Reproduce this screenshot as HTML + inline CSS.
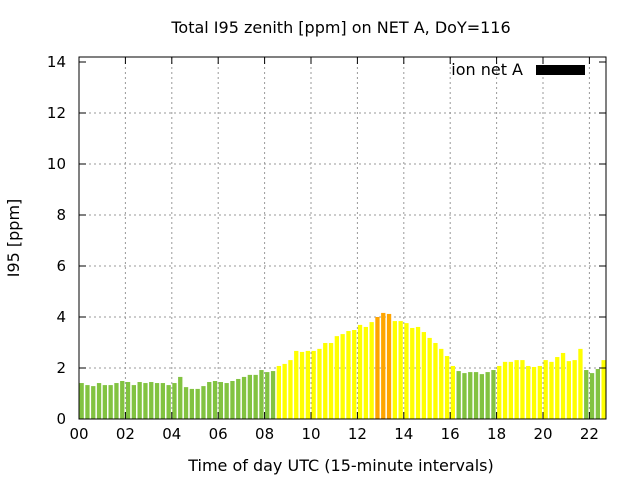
<!DOCTYPE html>
<html><head><meta charset="utf-8"><style>
body{margin:0;background:#fff;}
svg text{font-family:"DejaVu Sans","Liberation Sans",sans-serif;}
</style></head><body>
<svg id="chart" width="640" height="480" xmlns="http://www.w3.org/2000/svg">
<rect width="640" height="480" fill="#fff"/>
<text x="341" y="33" font-size="16" text-anchor="middle">Total I95 zenith [ppm] on NET A, DoY=116</text>
<text x="341" y="471" font-size="16" text-anchor="middle">Time of day UTC (15-minute intervals)</text>
<text transform="translate(19,238) rotate(-90)" font-size="16" text-anchor="middle">I95 [ppm]</text>
<g id="grid"></g><g id="bars"></g><g id="axes"></g>
<text x="523" y="75" font-size="16" text-anchor="end">ion net A</text>
<rect x="536" y="65" width="49" height="10" fill="#000"/>
</svg>
<script>
const values=[1.41,1.33,1.29,1.41,1.33,1.33,1.41,1.49,1.45,1.33,1.45,1.41,1.45,1.41,1.41,1.33,1.41,1.65,1.25,1.18,1.18,1.29,1.45,1.49,1.45,1.41,1.49,1.57,1.65,1.73,
1.73,1.92,1.84,1.88,2.08,2.16,2.31,2.67,2.63,2.67,2.67,2.75,2.98,2.98,3.25,3.33,3.45,3.49,3.69,3.61,3.80,4.0,4.16,4.12,3.84,3.84,3.76,3.57,3.61,3.41,
3.18,2.98,2.75,2.47,2.08,1.88,1.80,1.84,1.84,1.76,1.84,1.92,2.08,2.24,2.24,2.31,2.31,2.08,2.04,2.08,2.31,2.24,2.43,2.59,2.27,2.31,2.75,1.92,1.80,1.96,2.31];
const yTicks=[0,2,4,6,8,10,12,14];
const xTicks=[0,2,4,6,8,10,12,14,16,18,20,22];
const xTickLabels=["00","02","04","06","08","10","12","14","16","18","20","22"];
const L=79,R=606,T=57,B=419;
const xs=h=>L+h*23.2;
const ys=v=>B-v*25.5;
const NS="http://www.w3.org/2000/svg";
function mk(tag,attrs,parent){const e=document.createElementNS(NS,tag);for(const k in attrs)e.setAttribute(k,attrs[k]);parent.appendChild(e);return e;}
const grid=document.getElementById('grid'),bars=document.getElementById('bars'),axes=document.getElementById('axes');
yTicks.forEach(v=>{
  const y=ys(v);
  if(v>0&&v<14){const g=mk('line',{x1:L,x2:R,y1:y,y2:y,stroke:'#999','stroke-dasharray':'2,3'},grid);
  
  }
  mk('line',{x1:L,x2:L+7,y1:y,y2:y,stroke:'#000'},axes);
  mk('line',{x1:R,x2:R-7,y1:y,y2:y,stroke:'#000'},axes);
  const t=mk('text',{x:L-13,y:y+5,'font-size':15,'text-anchor':'end'},axes);t.textContent=v;
  
  
});
xTicks.forEach((h,i)=>{
  const x=xs(h);
  if(h>0){const g=mk('line',{x1:x,x2:x,y1:T,y2:B,stroke:'#999','stroke-dasharray':'2,3'},grid);
  
  }
  mk('line',{x1:x,x2:x,y1:B,y2:B-7,stroke:'#000'},axes);
  mk('line',{x1:x,x2:x,y1:T,y2:T+7,stroke:'#000'},axes);
  const t=mk('text',{x:x,y:B+20,'font-size':15,'text-anchor':'middle'},axes);t.textContent=xTickLabels[i];
  
  
});
values.forEach((v,i)=>{
  const x=xs(i*0.25);
  const c=v<2?'#82c341':(v<4?'#ffff00':'#ffa500');
  const b=mk('rect',{x:x+0.5,y:ys(v),width:4.3,height:B-ys(v),fill:c},bars);
  
  
});
const f=mk('rect',{x:L,y:T,width:R-L,height:B-T,fill:'none',stroke:'#000','stroke-width':1},axes);


</script>
</body></html>
